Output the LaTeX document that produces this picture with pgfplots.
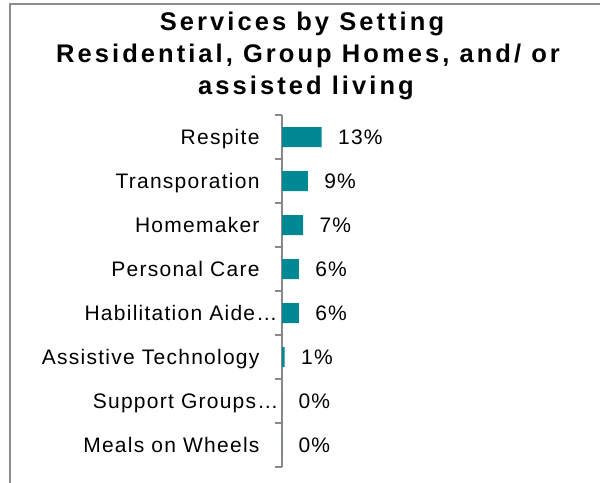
\documentclass[border=0pt]{standalone}
\usepackage{pgfplots}
\pgfplotsset{compat=1.18}
\usepackage{fontspec}
\setmainfont{Liberation Sans}
\newfontfamily\labfont{Liberation Sans}[LetterSpace=6]
\newfontfamily\ttlfont{Liberation Sans}[LetterSpace=12]
\definecolor{barcol}{RGB}{0,137,148}
\definecolor{axgray}{RGB}{136,136,136}
\definecolor{framegray}{RGB}{140,140,140}
\begin{document}
\begin{tikzpicture}
\useasboundingbox (0bp,0bp) rectangle (600bp,483bp);
\draw[framegray, line width=2bp] (10bp,-5bp) -- (10bp,478.5bp) -- (605bp,478.5bp);
\tikzset{ttl/.style={anchor=base, inner sep=0, font=\ttlfont\bfseries\fontsize{25.5bp}{29bp}\selectfont}}
\node[ttl] at (302bp,452bp) {Services by Setting};
\node[ttl] at (308bp,420bp) {Residential, Group Homes, and/ or};
\node[ttl] at (306bp,388bp) {assisted living};
\begin{axis}[
  at={(282bp,16bp)}, anchor=south west,
  scale only axis, width=300bp, height=352bp,
  xmin=0, xmax=100, ymin=-0.5, ymax=7.5,
  xbar, bar width=20bp,
  axis x line=none, axis y line*=left,
  y axis line style={axgray, line width=1.5bp, -},
  ytick={0,...,7},
  yticklabels={Meals on Wheels, Support Groups…\kern-19bp, Assistive Technology, Habilitation Aide…\kern-18bp, Personal Care, Homemaker, Transporation, Respite},
  major tick length=0pt,
  minor ytick={-0.5,0.5,...,7.5},
  minor tick length=7bp,
  tick align=outside,
  minor tick style={axgray, line width=1.5bp},
  major tick style={draw=none},
  yticklabel style={font=\labfont\fontsize{21bp}{25bp}\selectfont, anchor=base east, yshift=-7.5bp, xshift=-19bp},
  /pgf/number format/.cd, fixed, precision=0, assume math mode=true,
  /pgfplots/.cd,
  nodes near coords={\pgfmathprintnumber{\pgfplotspointmeta}\%},
  every node near coord/.append style={font=\labfont\fontsize{21bp}{25bp}\selectfont, anchor=base west, yshift=-7.5bp, xshift=13bp, text=black},
  point meta=x,
  clip=false,
]
\addplot[fill=barcol, draw=none] coordinates {
  (0,0) (0,1) (0.9,2) (5.6,3) (5.6,4) (7.0,5) (8.6,6) (13.2,7)
};
\end{axis}
\end{tikzpicture}
\end{document}
